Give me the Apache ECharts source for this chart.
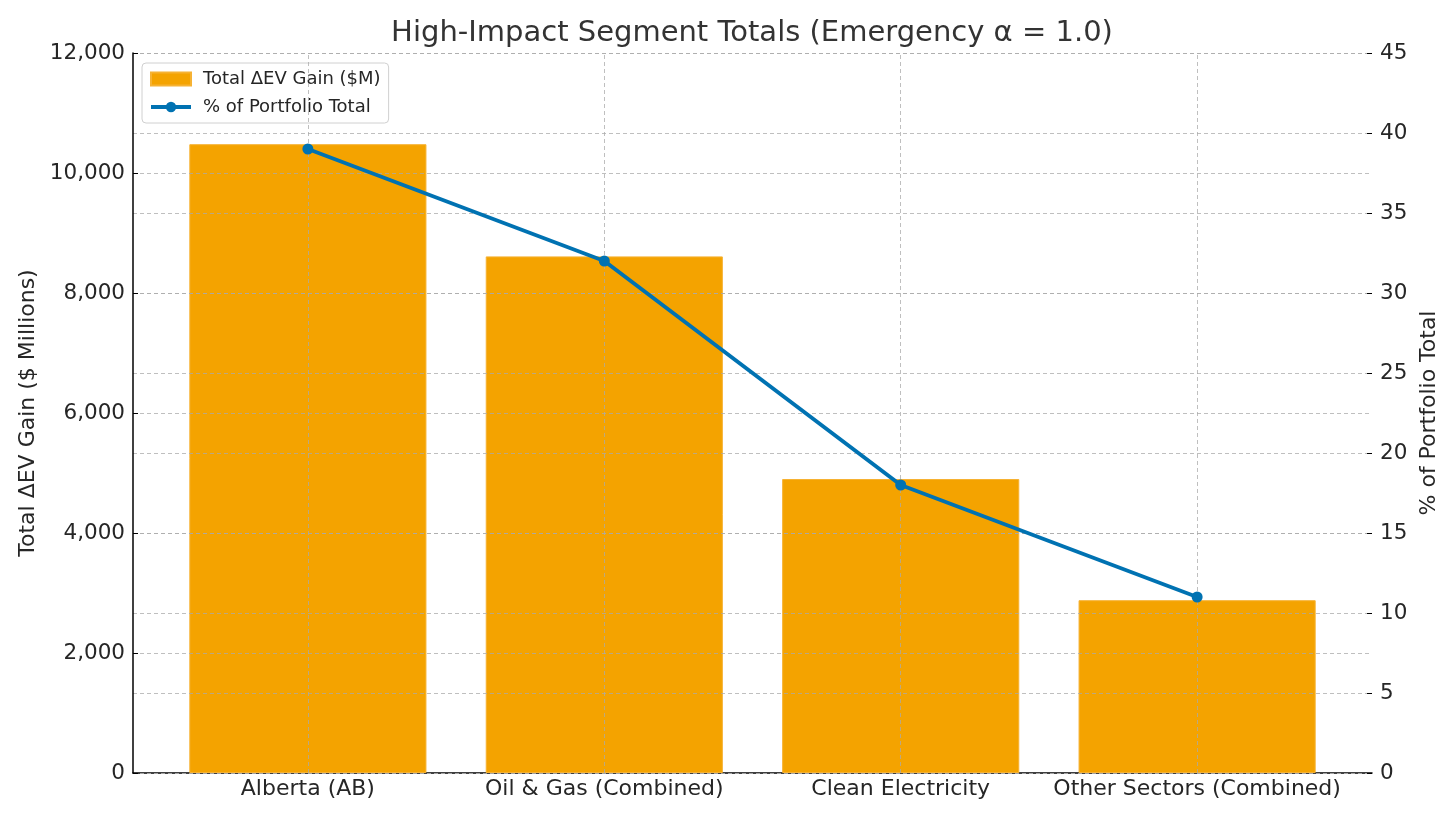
<!DOCTYPE html>
<html>
<head>
<meta charset="utf-8">
<script src="https://cdn.jsdelivr.net/npm/echarts@6/dist/echarts.min.js"></script>
<style>html,body{margin:0;padding:0;background:#fff}#c{width:1456px;height:821px}</style>
</head>
<body>
<div id="c"></div>
<script>
const categories = ['Alberta (AB)', 'Oil & Gas (Combined)', 'Clean Electricity', 'Other Sectors (Combined)'];
const gainValues = [10480, 8610, 4900, 2880];
const pctValues = [39.0, 32.0, 18.0, 11.0];
const leftTicks = [0, 2000, 4000, 6000, 8000, 10000, 12000];
const rightTicks = [0, 5, 10, 15, 20, 25, 30, 35, 40, 45];

const FONT = 'DejaVu Sans';
const idx = categories.map((_, i) => i);
const gridLine = { show: true, lineStyle: { color: 'rgba(170,170,170,0.75)', type: [4, 3], width: 1 } };

const chart = echarts.init(document.getElementById('c'), null, { renderer: 'canvas' });
chart.setOption({
  animation: false,
  backgroundColor: '#fff',
  textStyle: { fontFamily: FONT },
  title: {
    text: 'High-Impact Segment Totals (Emergency α = 1.0)',
    left: 752, top: 19, padding: 0, textAlign: 'center',
    textStyle: { fontFamily: FONT, fontSize: 29, fontWeight: 'normal', color: '#333' }
  },
  legend: {
    orient: 'vertical', left: 142, top: 63,
    padding: [7, 8, 7, 7],
    itemGap: 10, itemWidth: 40, itemHeight: 13,
    borderColor: '#d0d0d0', borderWidth: 1, borderRadius: 4,
    backgroundColor: 'rgba(255,255,255,0.8)',
    textStyle: { fontFamily: FONT, fontSize: 18, color: '#262626', padding: [0, 0, 0, 7] },
    data: [
      { name: 'Total ΔEV Gain ($M)', icon: 'rect' },
      { name: '% of Portfolio Total', lineStyle: { width: 4, color: '#0072B2' } }
    ]
  },
  grid: { left: 133, right: 84, top: 53, bottom: 48, containLabel: false },
  xAxis: {
    type: 'value', min: -0.59, max: 3.59,
    axisLine: { show: true, onZero: false, lineStyle: { color: '#000', width: 1.5 } },
    axisTick: { show: true, inside: true, length: 5, customValues: idx, lineStyle: { color: '#000' } },
    axisLabel: {
      show: true, customValues: idx, margin: 5,
      formatter: v => categories[Math.round(v)],
      fontFamily: FONT, fontSize: 22, color: '#262626'
    },
    splitLine: { show: false }
  },
  yAxis: [
    {
      type: 'value', min: 0, max: 12000, interval: 2000, z: 3,
      name: 'Total ΔEV Gain ($ Millions)', nameLocation: 'middle', nameGap: 86, nameRotate: 90,
      nameTextStyle: { fontFamily: FONT, fontSize: 22, color: '#262626' },
      axisLine: { show: true, onZero: false, lineStyle: { color: '#000', width: 1.5 } },
      axisTick: { show: true, inside: true, length: 5, lineStyle: { color: '#000' } },
      axisLabel: {
        margin: 8, fontFamily: FONT, fontSize: 21.5, color: '#262626', padding: [4, 0, 0, 0],
        formatter: v => leftTicks.includes(v) ? v.toLocaleString('en-US') : ''
      },
      splitLine: gridLine
    },
    {
      type: 'value', min: 0, max: 45, interval: 5, z: 3, position: 'right',
      name: '% of Portfolio Total', nameLocation: 'middle', nameGap: 31, nameRotate: 90,
      nameTextStyle: { fontFamily: FONT, fontSize: 22, color: '#262626' },
      axisLine: { show: false, onZero: false },
      axisTick: { show: true, inside: true, length: 5, lineStyle: { color: '#000' } },
      axisLabel: {
        margin: 8, fontFamily: FONT, fontSize: 21.5, color: '#262626', padding: [4, 0, 0, 0],
        formatter: v => rightTicks.includes(v) ? String(v) : ''
      },
      splitLine: gridLine
    }
  ],
  series: [
    {
      name: 'Total ΔEV Gain ($M)', type: 'bar', yAxisIndex: 0, z: 2,
      barWidth: '80%',
      itemStyle: { color: '#F4A300', borderColor: '#F6B233', borderWidth: 1 },
      data: gainValues.map((v, i) => [i, v]),
      markLine: {
        silent: true, symbol: 'none', z: 4,
        label: { show: false },
        lineStyle: { color: 'rgba(170,170,170,0.75)', type: [4, 3], width: 1 },
        emphasis: { disabled: true },
        data: idx.map(i => ({ xAxis: i }))
      }
    },
    {
      name: '% of Portfolio Total', type: 'line', yAxisIndex: 1, z: 10,
      symbol: 'circle', symbolSize: 11,
      lineStyle: { color: '#0072B2', width: 4 },
      itemStyle: { color: '#0072B2' },
      data: pctValues.map((v, i) => [i, v])
    }
  ]
});
</script>
</body>
</html>
